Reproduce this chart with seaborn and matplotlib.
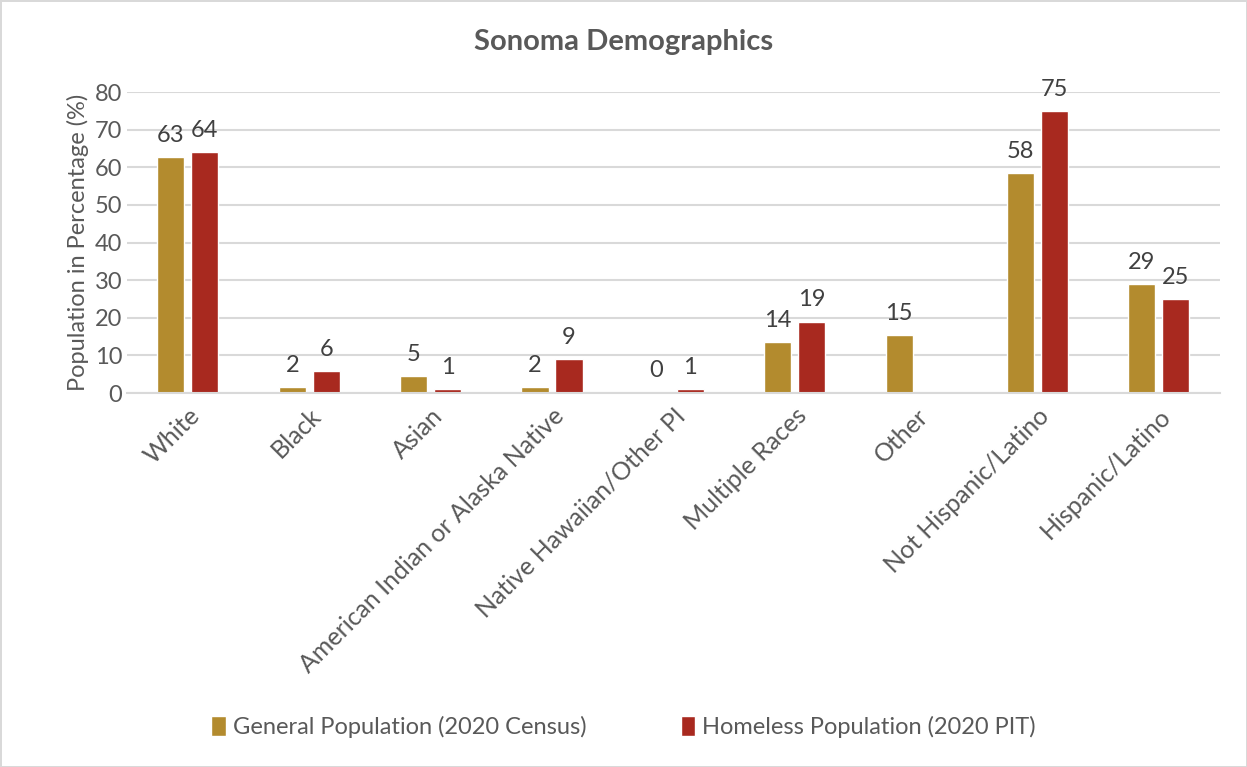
"""Sonoma demographics: general vs homeless population, grouped bars."""
import matplotlib
matplotlib.use("Agg")
import matplotlib.pyplot as plt
import numpy as np
import pandas as pd
import seaborn as sns

CATEGORIES = [
    "White", "Black", "Asian", "American Indian or Alaska Native",
    "Native Hawaiian/Other PI", "Multiple Races", "Other",
    "Not Hispanic/Latino", "Hispanic/Latino",
]
GENERAL = [62.7, 1.5, 4.6, 1.7, 0.3, 13.6, 15.3, 58.4, 28.9]
HOMELESS = [64.0, 5.9, 1.0, 9.0, 1.0, 19.0, np.nan, 75.0, 25.0]
SERIES = ["General Population (2020 Census)", "Homeless Population (2020 PIT)"]
COLORS = ["#B38B2E", "#A8291F"]

df = pd.DataFrame({
    "category": CATEGORIES * 2,
    "value": GENERAL + HOMELESS,
    "series": [SERIES[0]] * len(CATEGORIES) + [SERIES[1]] * len(CATEGORIES),
})

sns.set_theme(style="white")
plt.rcParams["font.family"] = ["Lato", "DejaVu Sans"]

fig = plt.figure(figsize=(12.47, 7.67), dpi=100)
fig.patch.set_edgecolor("#d9d9d9")
fig.patch.set_linewidth(2)
ax = fig.add_axes([0.102, 0.4876, 0.876, 0.3924])

sns.barplot(
    data=df, x="category", y="value", hue="series", palette=COLORS,
    saturation=1, width=0.56, gap=0.2, ax=ax, order=CATEGORIES,
    hue_order=SERIES,
)

for cont in ax.containers:
    labels = ["" if np.isnan(v) else f"{v:.0f}" for v in cont.datavalues]
    ax.bar_label(cont, labels=labels, padding=8, fontsize=17, color="#404040")

ax.set_ylim(0, 80)
ax.set_yticks(range(0, 81, 10))
ax.yaxis.grid(True, color="#d9d9d9", linewidth=1.5)
ax.set_axisbelow(True)
for side in ["top", "right", "left"]:
    ax.spines[side].set_visible(False)
ax.spines["bottom"].set_color("#d9d9d9")
ax.spines["bottom"].set_linewidth(1.5)
ax.tick_params(axis="both", length=0, labelsize=17, labelcolor="#595959")
ax.tick_params(axis="x", labelsize=18, pad=8)
plt.setp(ax.get_xticklabels(), rotation=45, ha="right", rotation_mode="anchor")

ax.set_xlabel("")
ax.set_ylabel("Population in Percentage (%)", fontsize=17, color="#595959")
fig.text(0.5, 0.945, "Sonoma Demographics", ha="center", va="center",
         fontsize=21, fontweight="bold", color="#595959")

ax.legend_.remove()
handles, labels = ax.get_legend_handles_labels()
fig.legend(handles, labels, loc="center", bbox_to_anchor=(0.5, 0.052),
           ncol=2, frameon=False, fontsize=17, handlelength=0.6,
           handleheight=0.9, columnspacing=4, handletextpad=0.3,
           labelcolor="#595959")

fig.savefig("out.png", dpi=100)
